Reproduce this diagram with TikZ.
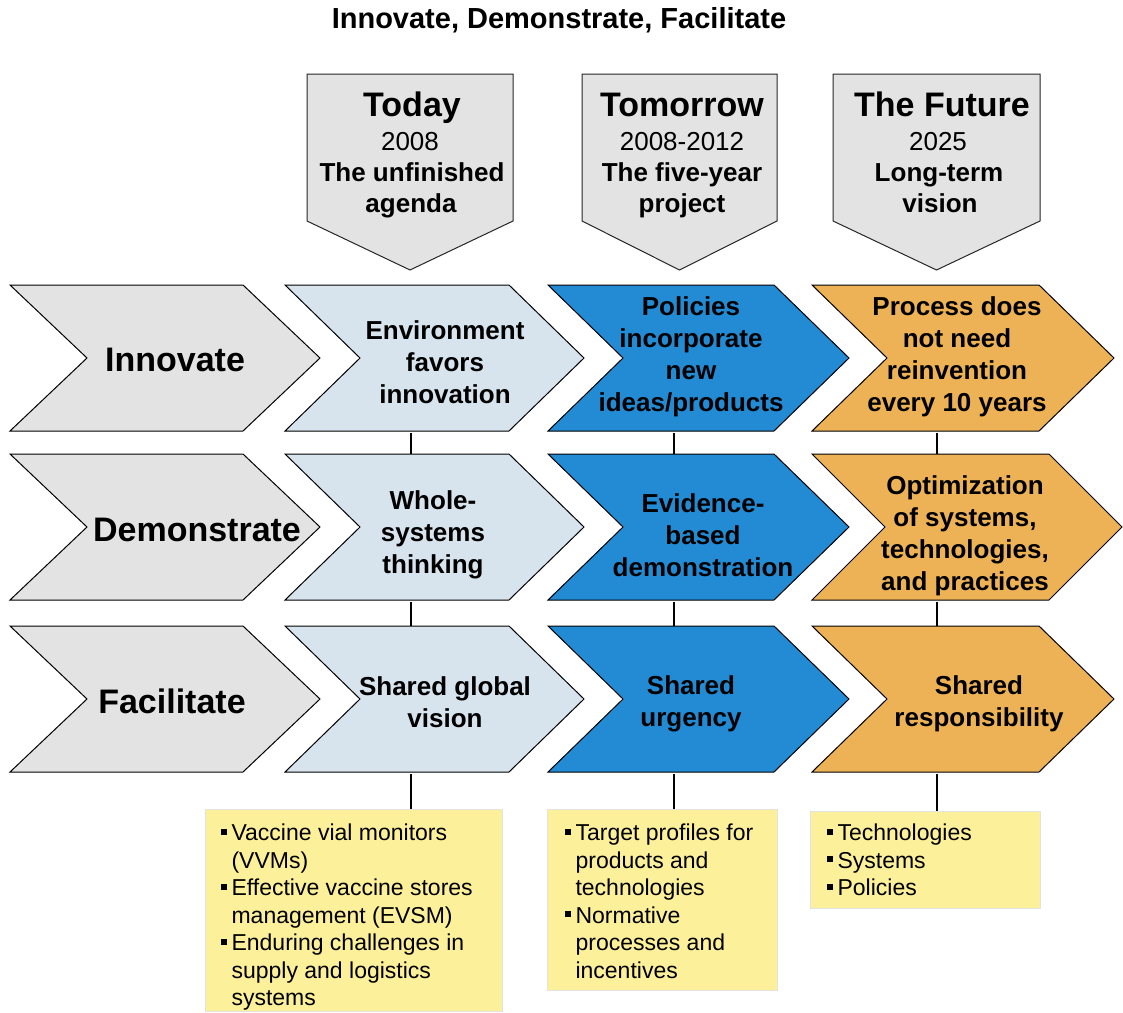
\documentclass[tikz,border=0pt]{standalone}
\usepackage{fontspec}
\setmainfont{Liberation Sans}
\definecolor{cgray}{HTML}{E3E3E3}
\definecolor{clblue}{HTML}{D7E3ED}
\definecolor{cblue}{HTML}{238AD4}
\definecolor{corange}{HTML}{EDB256}
\definecolor{cyellow}{HTML}{FDF09A}
\definecolor{cyborder}{HTML}{E2E2E2}
\newcommand\bul{\makebox[0.45em][l]{\rule[0.26em]{0.26em}{0.26em}}}
\newcommand\bin{\hspace*{0.45em}}
% chevron: #1 name, #2 x0, #3 x1, #4 y0, #5 y1, #6 depth, #7 style
\newcommand\mychev[7]{%
  \path[#7] (#2,#4) -- (#3-#6,#4) -- (#3,{(#4+#5)/2}) -- (#3-#6,#5) -- (#2,#5) -- (#2+#6,{(#4+#5)/2}) -- cycle;
  \node[inner sep=0pt, minimum width=#3-#2, minimum height=#5-#4, anchor=north west] (#1) at (#2,#4) {};}
% header arrow: #1 name, #2 x0, #3 x1
\newcommand\myhead[3]{%
  \path[hd] (#2,74) -- (#3,74) -- (#3,221) -- ({(#2+#3)/2},270) -- (#2,221) -- cycle;
  \node[inner sep=0pt, minimum width=#3-#2, minimum height=196, anchor=north west] (#1) at (#2,74) {};}
\begin{document}
\begin{tikzpicture}[x=1pt,y=-1pt,
  shp/.style={draw=black,line width=1pt,line join=miter},
  gch/.style={shp,fill=cgray},
  lch/.style={shp,fill=clblue},
  bch/.style={shp,fill=cblue},
  och/.style={shp,fill=corange},
  hd/.style={draw=black!85,line width=1pt,fill=cgray},
  conn/.style={draw=black,line width=2.6pt},
  ybox/.style={draw=cyborder,line width=1.2pt,fill=cyellow,inner sep=0pt,anchor=north west},
  ttl/.style={inner sep=0pt,font=\fontsize{29}{33}\selectfont\bfseries},
  lab/.style={inner sep=0pt,font=\fontsize{34}{40}\selectfont\bfseries},
  hbig/.style={inner sep=0pt,anchor=base,font=\fontsize{34}{40}\selectfont\bfseries},
  hyr/.style={inner sep=0pt,anchor=base,font=\fontsize{26}{30}\selectfont},
  hbl/.style={inner sep=0pt,anchor=base,font=\fontsize{26}{30}\selectfont\bfseries},
  ct/.style={inner sep=0pt,align=center,font=\fontsize{26}{32}\selectfont\bfseries},
  bt/.style={inner sep=0pt,align=left,anchor=north west,font=\fontsize{23}{27.5}\selectfont}]
\useasboundingbox (0,0) rectangle (1123,1012);

% title
\node[ttl] (title) at (559,20) {Innovate, Demonstrate, Facilitate};

% column guide coordinates for connectors
\coordinate (k1) at (411,0);
\coordinate (k2) at (674,0);
\coordinate (k3) at (937,0);

% headers
\myhead{h1}{307}{513}
\myhead{h2}{582}{777}
\myhead{h3}{833}{1040}
\node[hbig] (h1a) at (412,116) {Today};
\node[hyr]  (h1b) at (410,150) {2008};
\node[hbl]  (h1c) at (412,181) {The unfinished};
\node[hbl]  (h1d) at (411,212) {agenda};
\node[hbig] (h2a) at (682,116) {Tomorrow};
\node[hyr]  (h2b) at (682,150) {2008-2012};
\node[hbl]  (h2c) at (682,181) {The five-year};
\node[hbl]  (h2d) at (682,212) {project};
\node[hbig] (h3a) at (942,116) {The Future};
\node[hyr]  (h3b) at (938,150) {2025};
\node[hbl]  (h3c) at (939,181) {Long-term};
\node[hbl]  (h3d) at (940,212) {vision};

% row 1
\mychev{c11}{10}{320}{285}{431}{77}{gch}
\mychev{c12}{285}{584}{285}{431}{75}{lch}
\mychev{c13}{548}{849}{285}{431}{75}{bch}
\mychev{c14}{812}{1114}{285}{431}{75}{och}
% row 2
\mychev{c21}{10}{320}{454}{600}{77}{gch}
\mychev{c22}{285}{584}{454}{600}{75}{lch}
\mychev{c23}{548}{849}{454}{600}{75}{bch}
\mychev{c24}{812}{1122}{454}{600}{73}{och}
% row 3
\mychev{c31}{10}{320}{626}{772}{77}{gch}
\mychev{c32}{285}{584}{626}{772}{75}{lch}
\mychev{c33}{548}{849}{626}{772}{75}{bch}
\mychev{c34}{812}{1114}{626}{772}{75}{och}

% row labels
\node[lab] (l1) at (175,360) {Innovate};
\node[lab] (l2) at (197,530) {Demonstrate};
\node[lab] (l3) at (172,701) {Facilitate};

% chevron texts
\node[ct] (t12) at (445,362) {Environment\\favors\\innovation};
\node[ct] (t13) at (691,357) {Policies\\incorporate\\new\\ideas/products};
\node[ct] (t14) at (957,357) {Process does\\not need\\reinvention\\every 10 years};
\node[ct] (t22) at (433,535) {Whole-\\systems\\thinking};
\node[ct] (t23) at (703,535) {Evidence-\\based\\demonstration};
\node[ct] (t24) at (965,536) {Optimization\\of systems,\\technologies,\\and practices};
\node[ct] (t32) at (445,702) {Shared global\\vision};
\node[ct] (t33) at (691,704) {Shared\\urgency};
\node[ct] (t34) at (979,704) {Shared\\responsibility};

% bottom boxes
\node[ybox,minimum width=297,minimum height=202] (b1) at (205,809) {};
\node[ybox,minimum width=230,minimum height=181] (b2) at (547,809) {};
\node[ybox,minimum width=230,minimum height=97]  (b3) at (810,811) {};
\node[bt] (bt1) at (221,824) {\bul Vaccine vial monitors\\\bin(VVMs)\\\bul Effective vaccine stores\\\bin management (EVSM)\\\bul Enduring challenges in\\\bin supply and logistics\\\bin systems};
\node[bt] (bt2) at (565,824) {\bul Target profiles for\\\bin products and\\\bin technologies\\\bul Normative\\\bin processes and\\\bin incentives};
\node[bt] (bt3) at (827,824) {\bul Technologies\\\bul Systems\\\bul Policies};

% connectors
\draw[conn] ([yshift=-2pt]c12.south -| k1) -- (c22.north -| k1);
\draw[conn] ([yshift=-2pt]c22.south -| k1) -- (c32.north -| k1);
\draw[conn] ([yshift=-2pt]c32.south -| k1) -- (b1.north -| k1);
\draw[conn] ([yshift=-2pt]c13.south -| k2) -- (c23.north -| k2);
\draw[conn] ([yshift=-2pt]c23.south -| k2) -- (c33.north -| k2);
\draw[conn] ([yshift=-2pt]c33.south -| k2) -- (b2.north -| k2);
\draw[conn] ([yshift=-2pt]c14.south -| k3) -- (c24.north -| k3);
\draw[conn] ([yshift=-2pt]c24.south -| k3) -- (c34.north -| k3);
\draw[conn] ([yshift=-2pt]c34.south -| k3) -- (b3.north -| k3);
\end{tikzpicture}
\end{document}
